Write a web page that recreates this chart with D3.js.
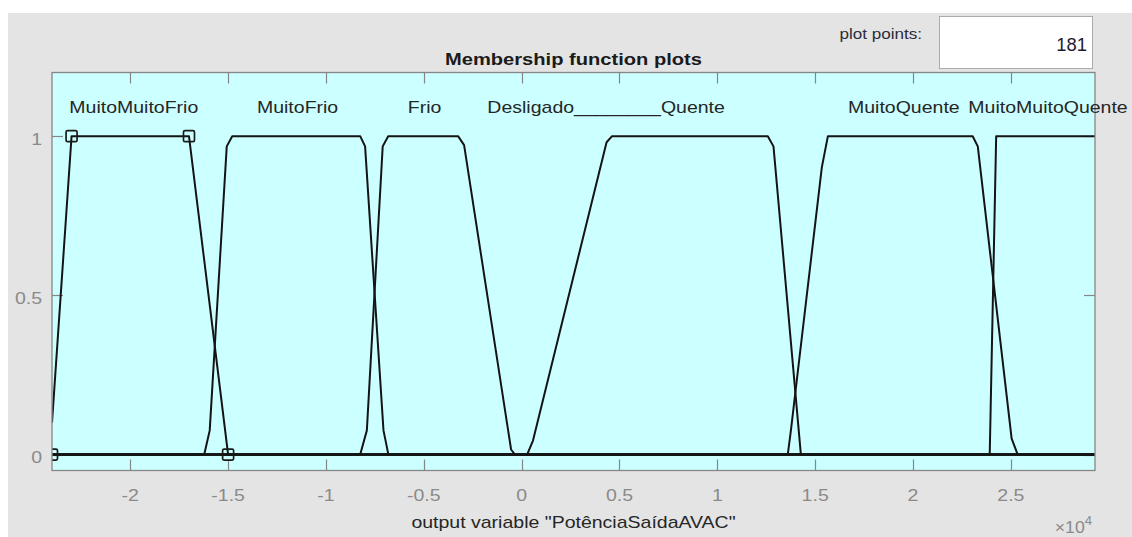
<!DOCTYPE html>
<html>
<head>
<meta charset="utf-8">
<script src="https://cdn.jsdelivr.net/npm/d3@7"></script>
<style>
  html, body { margin: 0; padding: 0; background: #ffffff; }
  svg { display: block; }
</style>
</head>
<body>
<svg id="chart" width="1132" height="537"></svg>
<script>
// Output variable range and axis limits
const xRange = [-24000, 29300];
const yRange = [-0.05, 1.2];

// Tick values and their labels (x in units of 10^4)
const xTicks = [-20000, -15000, -10000, -5000, 0, 5000, 10000, 15000, 20000, 25000];
const xTickLabels = ["-2", "-1.5", "-1", "-0.5", "0", "0.5", "1", "1.5", "2", "2.5"];
const yTicks = [0, 0.5, 1];
const yTickLabels = ["0", "0.5", "1"];

// Membership functions sampled over the range: [x, degree] vertices
const muitoMuitoFrio = [[-24000, 0.1], [-23000, 1], [-17000, 1], [-15000, 0], [29300, 0]];
const muitoFrio = [[-24000, 0], [-16220, 0], [-15940, 0.076], [-15070, 0.968], [-14790, 1],
                   [-8250, 1], [-8000, 0.968], [-7060, 0.076], [-6810, 0], [29300, 0]];
const frio = [[-24000, 0], [-8250, 0], [-7910, 0.076], [-7100, 0.968], [-6820, 1],
              [-3250, 1], [-2940, 0.972], [-540, 0.016], [-340, 0], [29300, 0]];
const desligado = [[-24000, 0], [29300, 0]];
const quente = [[-24000, 0], [280, 0], [580, 0.044], [4340, 0.981], [4620, 1],
                [12580, 1], [12870, 0.968], [14270, 0], [29300, 0]];
const muitoQuente = [[-24000, 0], [13600, 0], [13760, 0.076], [15340, 0.902], [15650, 1],
                     [23050, 1], [23310, 0.968], [25040, 0.05], [25350, 0], [29300, 0]];
const muitoMuitoQuente = [[-24000, 0], [23920, 0], [24250, 1], [29300, 1]];

const mfCurves = [muitoMuitoFrio, muitoFrio, frio, desligado, quente, muitoQuente, muitoMuitoQuente];

// Membership function names and where each name sits along x
const mfNames = ["MuitoMuitoFrio", "MuitoFrio", "Frio", "Desligado________", "Quente", "MuitoQuente", "MuitoMuitoQuente"];
const mfNameX = [-19820, -11450, -4960, 2680, 8750, 19530, 26900];

// Parameter vertices of the selected function (MuitoMuitoFrio)
const selectedVertices = [[-24000, 0], [-23000, 1], [-17000, 1], [-15000, 0]];

const plotPoints = "181";

// ---------------------------------------------------------------
const FONT = "'Liberation Sans', Arial, Helvetica, sans-serif";
const SX = 1.22; // horizontal stretch of the rendered type

const svg = d3.select("#chart");

const plot = { left: 52, right: 1095, top: 72.5, bottom: 470.5 };

const x = d3.scaleLinear().domain(xRange).range([plot.left, plot.right]);
const y = d3.scaleLinear().domain(yRange).range([plot.bottom, plot.top]);

function label(parent, px, py, str, o = {}) {
  return parent.append("text")
    .attr("transform", `translate(${px},${py}) scale(${o.sx || SX},1)`)
    .attr("text-anchor", o.anchor || "middle")
    .attr("font-family", FONT)
    .attr("font-size", o.size || 16)
    .attr("font-weight", o.weight || "normal")
    .attr("fill", o.fill || "#262626")
    .text(str);
}

// Figure background
svg.append("rect").attr("x", 0).attr("y", 0).attr("width", 1132).attr("height", 537).attr("fill", "#ffffff");
svg.append("rect").attr("x", 8).attr("y", 13).attr("width", 1124).attr("height", 524).attr("fill", "#e4e4e4");

// Plot points box
svg.append("rect").attr("x", 939.5).attr("y", 16.5).attr("width", 153).attr("height", 52)
  .attr("fill", "#ffffff").attr("stroke", "#ababab").attr("stroke-width", 1);
label(svg, 1087, 50.5, plotPoints, { anchor: "end", size: 17.5, sx: 1.05, fill: "#1e1a33" });
label(svg, 922, 39, "plot points:", { anchor: "end", size: 14, fill: "#2b2b3a" });

// Title
label(svg, (plot.left + plot.right) / 2, 65, "Membership function plots", { size: 16.5, weight: "bold", fill: "#1a1a1a" });

// Axes background
svg.append("rect")
  .attr("x", plot.left).attr("y", plot.top)
  .attr("width", plot.right - plot.left).attr("height", plot.bottom - plot.top)
  .attr("fill", "#ccffff");

svg.append("clipPath").attr("id", "plotClip")
  .append("rect")
  .attr("x", plot.left).attr("y", plot.top)
  .attr("width", plot.right - plot.left).attr("height", plot.bottom - plot.top);

// Ticks on all four sides, pointing inward
const AX = "#868686";
const TL = 11;
const tickG = svg.append("g").attr("stroke", AX).attr("stroke-width", 1.2);
xTicks.forEach(v => {
  const px = Math.round(x(v)) + 0.5;
  tickG.append("line").attr("x1", px).attr("x2", px).attr("y1", plot.bottom).attr("y2", plot.bottom - TL);
  tickG.append("line").attr("x1", px).attr("x2", px).attr("y1", plot.top).attr("y2", plot.top + TL);
});
yTicks.forEach(v => {
  const py = Math.round(y(v)) + 0.5;
  tickG.append("line").attr("x1", plot.left).attr("x2", plot.left + TL).attr("y1", py).attr("y2", py);
  tickG.append("line").attr("x1", plot.right).attr("x2", plot.right - TL).attr("y1", py).attr("y2", py);
});

// Membership function curves
const line = d3.line().x(d => x(d[0])).y(d => y(d[1]));
const curveG = svg.append("g").attr("clip-path", "url(#plotClip)");
curveG.selectAll("path.mf")
  .data(mfCurves)
  .join("path")
  .attr("class", "mf")
  .attr("d", line)
  .attr("fill", "none")
  .attr("stroke", "#141414")
  .attr("stroke-width", 2)
  .attr("stroke-linejoin", "round");

// Square markers on the selected function's parameters
const MS = 11;
curveG.selectAll("rect.vtx")
  .data(selectedVertices)
  .join("rect")
  .attr("class", "vtx")
  .attr("x", d => x(d[0]) - MS / 2)
  .attr("y", d => y(d[1]) - MS / 2)
  .attr("width", MS).attr("height", MS)
  .attr("rx", 1.5)
  .attr("fill", "none")
  .attr("stroke", "#1a1a1a")
  .attr("stroke-width", 1.7);

// Axes box
svg.append("rect")
  .attr("x", plot.left).attr("y", plot.top)
  .attr("width", plot.right - plot.left).attr("height", plot.bottom - plot.top)
  .attr("fill", "none").attr("stroke", AX).attr("stroke-width", 1.3);

// Function names
mfNames.forEach((name, i) => {
  label(svg, x(mfNameX[i]), y(1.1) + 8.5, name, { size: 16, fill: "#262626" });
});

// Tick labels
const TC = "#8a8a8a";
xTicks.forEach((v, i) => {
  label(svg, x(v), 501, xTickLabels[i], { size: 16, fill: TC });
});
yTicks.forEach((v, i) => {
  label(svg, 42, y(v) + 8.5, yTickLabels[i], { size: 16, fill: TC, anchor: "end" });
});

// Exponent note
const expo = svg.append("text")
  .attr("transform", `translate(1092,533) scale(1.1,1)`)
  .attr("text-anchor", "end")
  .attr("font-family", FONT)
  .attr("font-size", 16)
  .attr("fill", TC);
expo.append("tspan").text("\u00d710");
expo.append("tspan").attr("font-size", 12).attr("dy", -8).text("4");

// Axis label
label(svg, (plot.left + plot.right) / 2, 528, "output variable \"PotênciaSaídaAVAC\"", { size: 16, fill: "#262626" });
</script>
</body>
</html>
